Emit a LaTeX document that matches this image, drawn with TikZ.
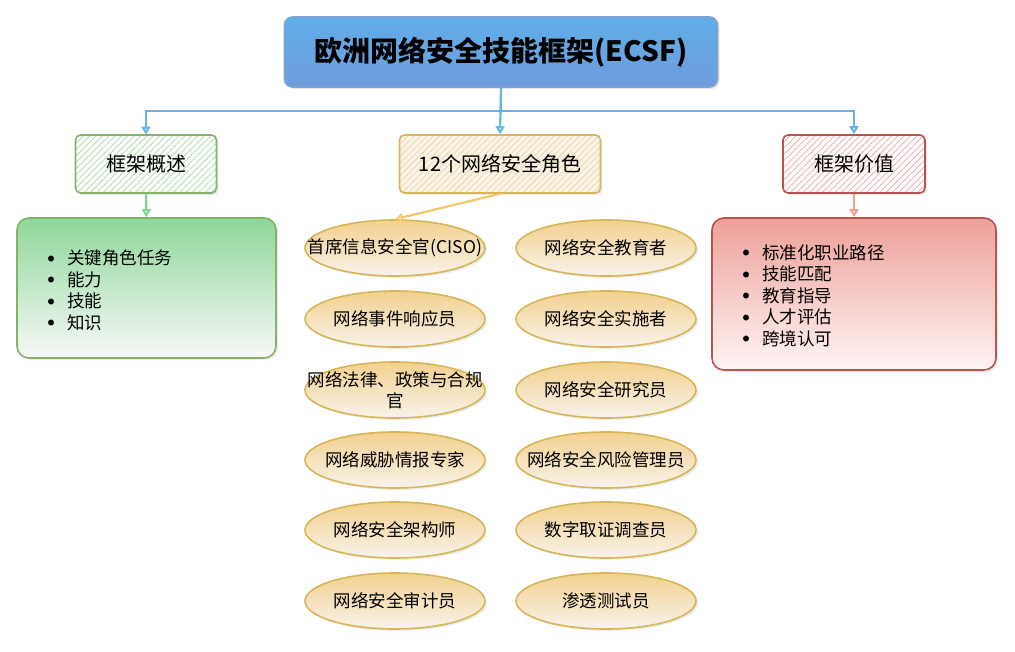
\documentclass[tikz,border=0pt]{standalone}
\usepackage{fontspec}
\setmainfont{Noto Sans CJK SC}
\usetikzlibrary{arrows.meta,shapes.geometric,patterns.meta,shadows}
\definecolor{titletop}{HTML}{5FAEE8}
\definecolor{titlebot}{HTML}{6F9CDC}
\definecolor{titleline}{HTML}{7BA3D6}
\definecolor{linkblue}{HTML}{66B2EA}
\definecolor{grnline}{HTML}{82B366}
\definecolor{grnhatch}{HTML}{B5DFB0}
\definecolor{grntop}{HTML}{8ED79A}
\definecolor{grnlink}{HTML}{7DD88B}
\definecolor{ylwline}{HTML}{D6B656}
\definecolor{ylwhatch}{HTML}{F0D9A6}
\definecolor{ylwtop}{HTML}{F3D08E}
\definecolor{ylwbot}{HTML}{F8F3EB}
\definecolor{ylwlink}{HTML}{F7C66B}
\definecolor{redline}{HTML}{B85450}
\definecolor{redhatch}{HTML}{F0B3AE}
\definecolor{redtop}{HTML}{EDA098}
\definecolor{redlink}{HTML}{F19C92}
\newcommand{\itemdot}{\makebox[16pt][l]{\makebox[0pt]{\raisebox{3.5pt}{\fontsize{6.5}{0}\selectfont ●}}}}

\begin{document}
\begin{tikzpicture}[x=1pt,y=-1pt]
		\useasboundingbox (0,0) rectangle (1015,652);
		% title
		\node[draw=titleline,line width=1.6pt,rounded corners=8pt,
		      top color=titletop,bottom color=titlebot,
		      minimum width=433pt,minimum height=70pt,
		      drop shadow={opacity=0.2,shadow xshift=2pt,shadow yshift=-2pt},
		      font=\bfseries\fontsize{28}{32}\selectfont] (title) at (501,52) {欧洲网络安全技能框架(ECSF)};

		\begin{scope}[every node/.style={rounded corners=5pt,line width=1.6pt,
		              minimum height=58pt,font=\fontsize{20}{24}\selectfont,
		              drop shadow={opacity=0.15,shadow xshift=2pt,shadow yshift=-2pt}}]
		    \node[draw=grnline,preaction={fill=white},
		          pattern={Lines[angle=45,distance=4.5pt,line width=0.9pt]},pattern color=grnhatch,
		          minimum width=141pt] (ovw) at (146,164) {框架概述};
		    \node[draw=ylwline,preaction={fill=ylwbot},
		          pattern={Lines[angle=45,distance=4.5pt,line width=0.9pt]},pattern color=ylwhatch,
		          minimum width=201pt] (roles) at (500,164) {12个网络安全角色};
		    \node[draw=redline,preaction={fill=white},
		          pattern={Lines[angle=45,distance=4.5pt,line width=0.9pt]},pattern color=redhatch,
		          minimum width=142pt] (val) at (854,164) {框架价值};
		\end{scope}

		\begin{scope}[every node/.style={rounded corners=12pt,line width=1.6pt,
		              drop shadow={opacity=0.15,shadow xshift=2pt,shadow yshift=-2pt}}]
		    \node[draw=grnline,top color=grntop,bottom color=white!95!gray,
		          minimum width=259pt,minimum height=140pt] (ovw-list) at (146.5,288) {};
		    \node[draw=redline,top color=redtop,bottom color=white!96!red,
		          minimum width=284pt,minimum height=152pt] (val-list) at (854,294) {};
		\end{scope}

		\begin{scope}[every node/.style={anchor=west,inner sep=0pt,
		              font=\fontsize{17.5}{21.5}\selectfont}]
		    \node (ovw-items) at (51,292.5) {\begin{tabular}{@{}l@{}l@{}}
		        \itemdot & 关键角色任务\\ \itemdot & 能力\\ \itemdot & 技能\\ \itemdot & 知识\end{tabular}};
		    \node (val-items) at (746,298) {\begin{tabular}{@{}l@{}l@{}}
		        \itemdot & 标准化职业路径\\ \itemdot & 技能匹配\\ \itemdot & 教育指导\\
		        \itemdot & 人才评估\\ \itemdot & 跨境认可\end{tabular}};
		\end{scope}

		% roles
		\begin{scope}[every node/.style={ellipse,draw=ylwline,line width=1.6pt,
		              top color=ylwtop,bottom color=ylwbot,
		              minimum width=180pt,minimum height=56pt,
		              inner xsep=-25pt,inner ysep=-2pt,align=center,
		              font=\fontsize{17.5}{21.5}\selectfont,
		              drop shadow={opacity=0.15,shadow xshift=2pt,shadow yshift=-2pt}}]
		    \node (ciso) at (395,248) {首席信息安全官(CISO)};
		    \node (incident) at (395,319) {网络事件响应员};
		    \node (legal) at (395,390) {网络法律、政策与合规\\官};
		    \node (threat) at (395,460) {网络威胁情报专家};
		    \node (architect) at (395,530) {网络安全架构师};
		    \node (auditor) at (395,601) {网络安全审计员};
		    \node (educator) at (606,248) {网络安全教育者};
		    \node (implementer) at (606,319) {网络安全实施者};
		    \node (researcher) at (606,390) {网络安全研究员};
		    \node (risk) at (606,460) {网络安全风险管理员};
		    \node (forensics) at (606,530) {数字取证调查员};
		    \node (pentester) at (606,601) {渗透测试员};
		\end{scope}

		\begin{scope}[>={Triangle[open,width=9pt,length=8pt]},line width=2.2pt]
		    \draw[->,linkblue] (title.south) -- ++(0,23) -| (ovw.north);
		    \draw[->,linkblue] (title.south) -- ++(0,23) -| (val.north);
		    \draw[->,linkblue] (title.south) -- (roles.north);
		    \draw[->,grnlink] (ovw.south) -- (ovw-list.north);
		    \draw[->,redlink] (val.south) -- (val-list.north);
		    \draw[->,ylwlink] (roles.south) -- (ciso.north);
		\end{scope}
\end{tikzpicture}
\end{document}
